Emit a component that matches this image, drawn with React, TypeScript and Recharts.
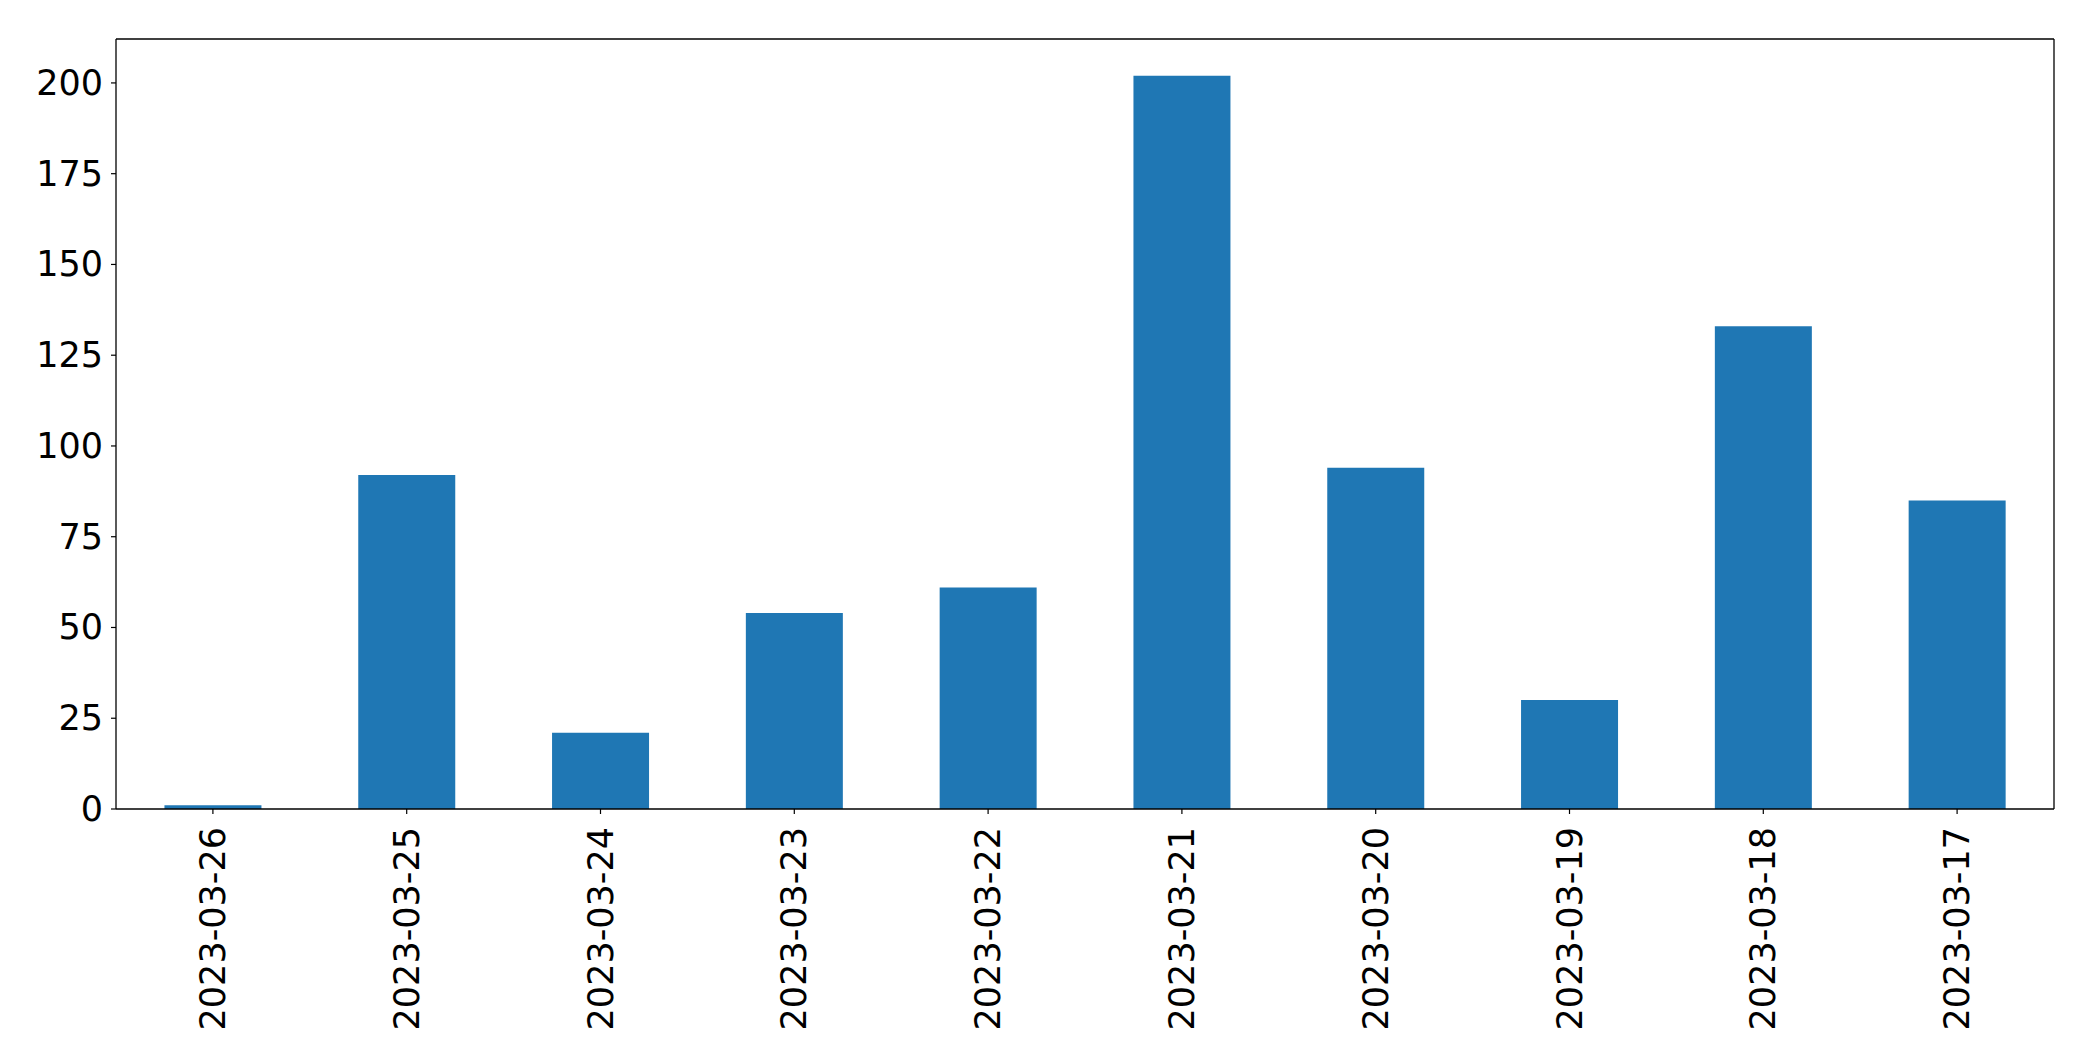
import React from "react";
import { BarChart, Bar, XAxis, YAxis } from "recharts";

const categories = [
  "2023-03-26",
  "2023-03-25",
  "2023-03-24",
  "2023-03-23",
  "2023-03-22",
  "2023-03-21",
  "2023-03-20",
  "2023-03-19",
  "2023-03-18",
  "2023-03-17",
];
const counts = [1, 92, 21, 54, 61, 202, 94, 30, 133, 85];
const yTicks = [0, 25, 50, 75, 100, 125, 150, 175, 200];

const data = categories.map((c, i) => ({ date: c, count: counts[i] }));

const FONT = "DejaVu Sans";
const FS = 35;

const XTick = (props: any) => {
  const { x, y, payload } = props;
  return (
    <text
      x={x}
      y={y + 11}
      transform={`rotate(-90, ${x}, ${y + 11})`}
      textAnchor="end"
      dominantBaseline="central"
      fontFamily={FONT}
      fontSize={FS}
      fill="#000"
    >
      {payload.value}
    </text>
  );
};

const YTick = (props: any) => {
  const { x, y, payload } = props;
  return (
    <text
      x={x}
      y={y}
      textAnchor="end"
      dominantBaseline="central"
      fontFamily={FONT}
      fontSize={FS}
      fill="#000"
    >
      {payload.value}
    </text>
  );
};

export default function App() {
  return (
    <div style={{ position: "absolute", left: 0, top: 0, background: "#fff" }}>
      <BarChart
        width={2093}
        height={1061}
        data={data}
        margin={{ top: 38, right: 38, bottom: 0, left: 0 }}
        barCategoryGap="25%"
      >
        <XAxis
          dataKey="date"
          interval={0}
          height={252}
          tick={<XTick />}
          tickSize={5}
          tickLine={{ stroke: "#000", strokeWidth: 1.2 }}
          axisLine={{ stroke: "#000", strokeWidth: 1.3 }}
        />
        <XAxis
          xAxisId="top"
          dataKey="date"
          orientation="top"
          height={1}
          tick={false}
          tickLine={false}
          axisLine={{ stroke: "#000", strokeWidth: 1.3 }}
        />
        <YAxis
          width={116}
          domain={[0, 212.1]}
          ticks={yTicks}
          interval={0}
          allowDataOverflow
          tick={<YTick />}
          tickSize={5}
          tickMargin={8}
          tickLine={{ stroke: "#000", strokeWidth: 1.2 }}
          axisLine={{ stroke: "#000", strokeWidth: 1.3 }}
        />
        <YAxis
          yAxisId="right"
          orientation="right"
          width={1}
          tick={false}
          tickLine={false}
          axisLine={{ stroke: "#000", strokeWidth: 1.3 }}
        />
        <Bar dataKey="count" fill="#1f77b4" isAnimationActive={false} />
      </BarChart>
    </div>
  );
}
